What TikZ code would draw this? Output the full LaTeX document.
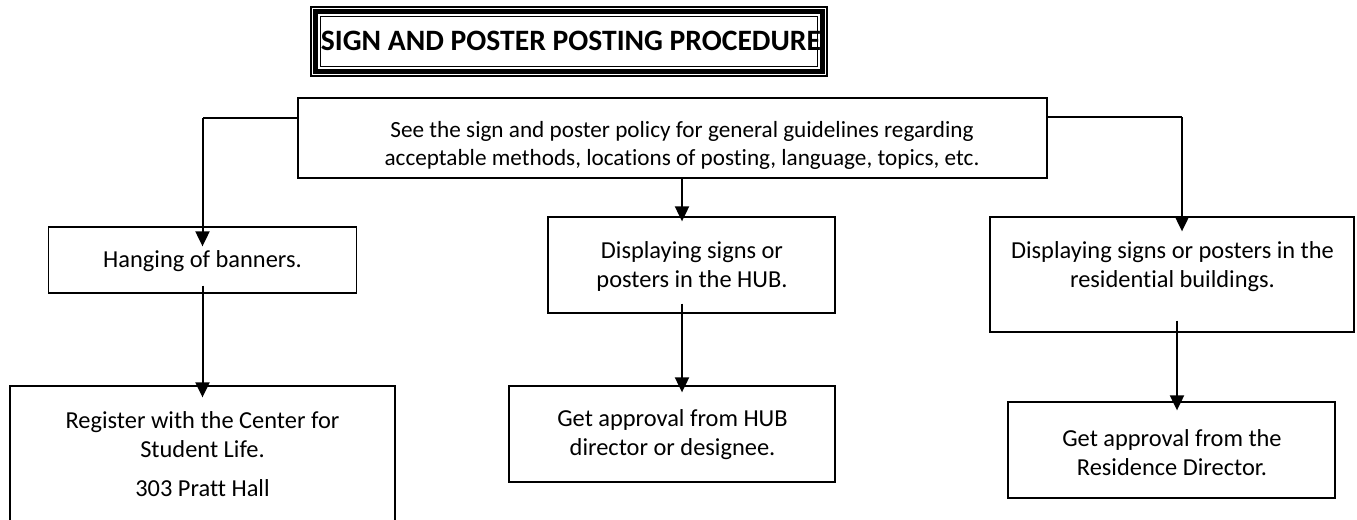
\documentclass[tikz,border=0pt]{standalone}
\usepackage{fontspec}
\setmainfont{Carlito}[Ligatures=NoCommon]
\usetikzlibrary{arrows.meta,calc}
\begin{document}
\begin{tikzpicture}[x=0.5pt,y=-0.5pt,
  box/.style={draw, line width=0.65pt, inner sep=0pt},
  txt/.style={font=\fontsize{12.2}{14.5}\selectfont, align=center, inner sep=0pt},
  thinline/.style={line width=0.65pt},
  arr/.style={line width=1pt, -{Triangle[length=7.5pt,width=7pt]}},
]
\useasboundingbox (0,0) rectangle (1357,520);

% title with thin-thick-thin frame
\node[draw, line width=0.6pt, minimum width=258pt, minimum height=34.5pt, inner sep=0pt] (title) at (569,41.5) {};
\draw[line width=2.5pt] ($(title.north west)+(5,5)$) rectangle ($(title.south east)+(-5,-5)$);
\draw[line width=0.6pt] ($(title.north west)+(10,10)$) rectangle ($(title.south east)+(-10,-10)$);
\node[font=\fontsize{14.8}{17}\bfseries, inner sep=0pt] (titletext) at (571,40.5) {SIGN AND POSTER POSTING PROCEDURE};

% boxes
\node[box, minimum width=374.5pt, minimum height=40pt] (see) at (672.5,138) {};
\node[box, minimum width=154pt, minimum height=33pt] (hang) at (202.5,260) {};
\node[box, minimum width=143.5pt, minimum height=48pt] (mid) at (691.5,265) {};
\node[box, minimum width=182pt, minimum height=57.5pt] (res) at (1172,274.5) {};
\node[box, minimum width=192.5pt, minimum height=75pt] (reg) at (202.5,461) {};
\node[box, minimum width=163pt, minimum height=48pt] (hub) at (672,434) {};
\node[box, minimum width=163.5pt, minimum height=48pt] (rd) at (1171.5,450) {};

% texts
\node[txt, font=\fontsize{11.6}{14}\selectfont] (seet) at (682,145) {See the sign and poster policy for general guidelines regarding\\acceptable methods, locations of posting, language, topics, etc.};
\node[txt] (hangt) at (202.5,261) {Hanging of banners.};
\node[txt] (midt) at (692,266.5) {Displaying signs or\\posters in the HUB.};
\node[txt] (rest) at (1172.5,267) {Displaying signs or posters in the\\residential buildings.};
\node[txt] (regt) at (202.5,454.5) {Register with the Center for\\Student Life.\\[5pt]303 Pratt Hall};
\node[txt] (hubt) at (672.5,434.5) {Get approval from HUB\\director or designee.};
\node[txt] (rdt) at (1172,452.5) {Get approval from the\\Residence Director.};

% connectors
\coordinate (lc) at (202.5,118);
\coordinate (rc) at (1182,117);
\coordinate (mc) at (682,178);
\draw[thinline] ($(see.west)+(0,-20)$) -- (lc);
\draw[arr] (lc) -- ($(hang.north)+(0,20)$);
\draw[arr] ($(hang.south)+(0,-8)$) -- ($(reg.north)+(0,12)$);
\draw[arr] (mc) -- ($(mc |- mid.north)+(0,5)$);
\draw[arr] ($(mid.south)+(-9.5,-10)$) -- ($(hub.north)+(10,7)$);
\draw[thinline] ($(see.east)+(0,-21)$) -- (rc);
\draw[arr] (rc) -- ($(rc |- res.north)+(0,15)$);
\draw[arr] ($(res.south)+(5,-12)$) -- ($(rd.north)+(5.5,9)$);
\end{tikzpicture}
\end{document}
